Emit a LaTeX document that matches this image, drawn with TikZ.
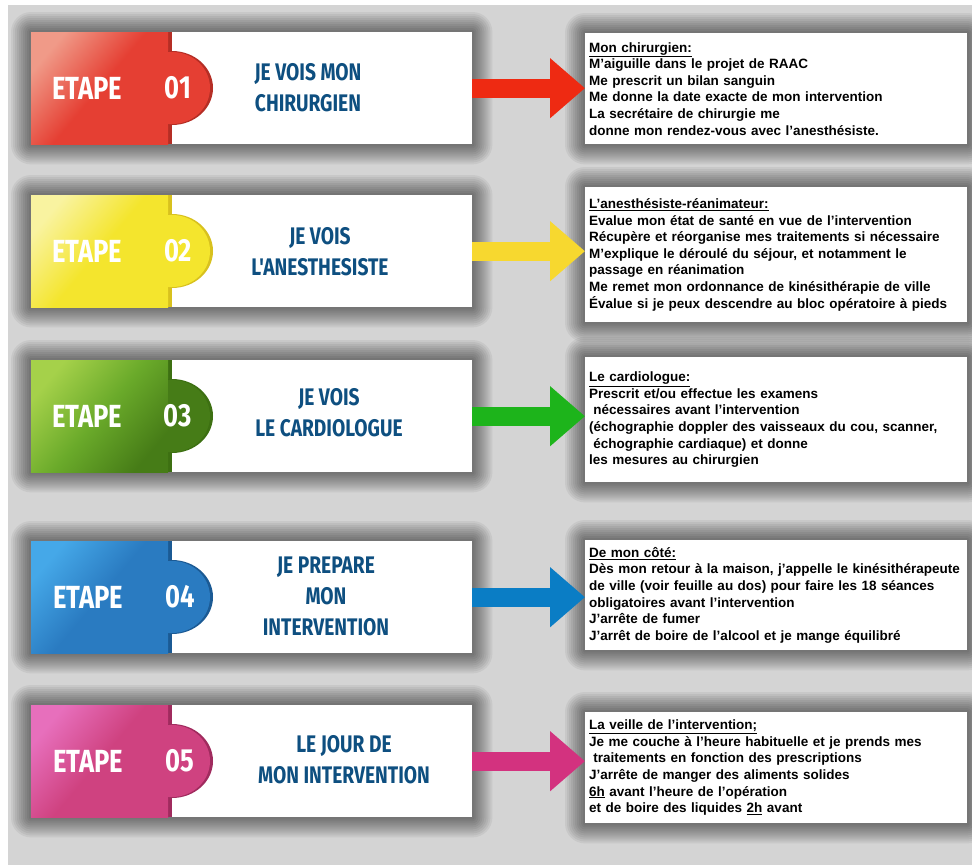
\documentclass[tikz,border=0pt]{standalone}
\usepackage{fontspec}
\setmainfont{Liberation Sans}
\newfontfamily\stepfont[FakeStretch=0.8]{Fira Sans}
\usetikzlibrary{positioning,arrows.meta,backgrounds}

\definecolor{bggray}{HTML}{D4D4D4}
\definecolor{titleblue}{HTML}{0E4F80}
\definecolor{redlight}{HTML}{F09A88}
\definecolor{redbase}{HTML}{E53F33}
\definecolor{reddark}{HTML}{B52E25}
\definecolor{redarrow}{HTML}{EE2A12}
\definecolor{yellowlight}{HTML}{F9F3A0}
\definecolor{yellowbase}{HTML}{F4E52D}
\definecolor{yellowdark}{HTML}{D8C11E}
\definecolor{yellowarrow}{HTML}{F7D82F}
\definecolor{greenlight}{HTML}{A5D14A}
\definecolor{greenbase}{HTML}{6AAA2A}
\definecolor{greendark}{HTML}{3D7012}
\definecolor{greenarrow}{HTML}{1DB41B}
\definecolor{bluelight}{HTML}{45A8E8}
\definecolor{bluebase}{HTML}{2A7BC1}
\definecolor{bluedark}{HTML}{1B5A94}
\definecolor{bluearrow}{HTML}{0A7DC5}
\definecolor{pinklight}{HTML}{E76FBC}
\definecolor{pinkbase}{HTML}{CF4280}
\definecolor{pinkdark}{HTML}{A02B5E}
\definecolor{pinkarrow}{HTML}{D3327F}

\tikzset{
	card/.style={fill=white, anchor=north west, minimum width=441pt, minimum height=112pt, inner sep=0pt},
	steplabel/.style={text=white, font=\stepfont\bfseries\fontsize{32}{32}\selectfont, inner sep=0pt},
	titletext/.style={text=titleblue, font=\stepfont\bfseries\fontsize{24}{31}\selectfont, align=center, inner sep=0pt},
	infobox/.style={fill=white, anchor=north west, text width=374pt, inner xsep=4pt, inner ysep=4pt, align=left, font=\bfseries\fontsize{13.5}{16.6}\selectfont},
	shadowring/.style={fill=black, opacity=0.055},
	fatarrow/.style={line width=19pt, -{Triangle[length=35pt,width=58pt]}},
	pics/tile/.style n args={4}{code={
		\fill[#4] (137,0) rectangle (141,112);
		\fill[left color=#1, right color=#3, middle color=#2, shading angle=50] (0,0) rectangle (137,112);
		\fill[#4] (137,19) -- (141,19) arc[start angle=-90, end angle=90, x radius=41, y radius=37] -- (137,93) -- cycle;
		\fill[#3] (137,20) -- (141,20) arc[start angle=-90, end angle=90, x radius=38, y radius=36] -- (137,92) -- cycle;
	}}
}

\begin{document}
\begin{tikzpicture}[x=1pt, y=-1pt]
	\useasboundingbox (0,0) rectangle (972,865);
	
	% etape 01
	\node[card] (card1) at (31,32) {};
	\pic at (31,32) {tile={redlight}{redbase}{redbase}{reddark}};
	\node[steplabel] (etape1) at (87,88) {ETAPE};
	\node[steplabel] (num1) at (178,88) {01};
	\node[titletext] (title1) at (308,88) {JE VOIS MON\\CHIRURGIEN};
	\node[infobox, minimum height=111pt] (info1) at (585,33) {\underline{Mon chirurgien:}\\
		M’aiguille dans le projet de RAAC\\
		Me prescrit un bilan sanguin\\
		Me donne la date exacte de mon intervention\\
		La secrétaire de chirurgie me\\
		donne mon rendez-vous avec l’anesthésiste.};
	\draw[fatarrow, redarrow] (card1.east) -- (card1.east -| info1.west);
	
	% etape 02
	\node[card] (card2) at (31,195) {};
	\pic at (31,195) {tile={yellowlight}{yellowbase}{yellowbase}{yellowdark}};
	\node[steplabel] (etape2) at (87,251) {ETAPE};
	\node[steplabel] (num2) at (178,251) {02};
	\node[titletext] (title2) at (320,252) {JE VOIS\\L'ANESTHESISTE};
	\node[infobox, minimum height=135pt] (info2) at (585,187) {\underline{L’anesthésiste-réanimateur:}\\
		Evalue mon état de santé en vue de l’intervention\\
		Récupère et réorganise mes traitements si nécessaire\\
		M’explique le déroulé du séjour, et notamment le\\
		passage en réanimation\\
		Me remet mon ordonnance de kinésithérapie de ville\\
		Évalue si je peux descendre au bloc opératoire à pieds};
	\draw[fatarrow, yellowarrow] (card2.east) -- (card2.east -| info2.west);
	
	% etape 03
	\node[card] (card3) at (31,360) {};
	\pic at (31,360) {tile={greenlight}{greenbase}{greendark!80!greenbase}{greendark}};
	\node[steplabel] (etape3) at (87,416) {ETAPE};
	\node[steplabel] (num3) at (178,416) {03};
	\node[titletext] (title3) at (329,413) {JE VOIS\\LE CARDIOLOGUE};
	\node[infobox, minimum height=125pt] (info3) at (585,357) {\underline{Le cardiologue:}\\
		Prescrit et/ou effectue les examens\\
		\hspace*{.3em}nécessaires avant l’intervention\\
		(échographie doppler des vaisseaux du cou, scanner,\\
		\hspace*{.3em}échographie cardiaque) et donne\\
		les mesures au chirurgien};
	\draw[fatarrow, greenarrow] (card3.east) -- (card3.east -| info3.west);
	
	% etape 04
	\node[card] (card4) at (31,541) {};
	\pic at (31,541) {tile={bluelight}{bluebase}{bluebase}{bluedark}};
	\node[steplabel] (etape4) at (88,597) {ETAPE};
	\node[steplabel] (num4) at (180,597) {04};
	\node[titletext] (title4) at (326,596) {JE PREPARE\\MON\\INTERVENTION};
	\node[infobox, minimum height=110pt] (info4) at (585,540) {\underline{De mon côté:}\\
		Dès mon retour à la maison, j’appelle le kinésithérapeute\\
		de ville (voir feuille au dos) pour faire les 18 séances\\
		obligatoires avant l’intervention\\
		J’arrête de fumer\\
		J’arrêt de boire de l’alcool et je mange équilibré};
	\draw[fatarrow, bluearrow] (card4.east) -- (card4.east -| info4.west);
	
	% etape 05
	\node[card] (card5) at (31,705) {};
	\pic at (31,705) {tile={pinklight}{pinkbase}{pinkbase}{pinkdark}};
	\node[steplabel] (etape5) at (88,761) {ETAPE};
	\node[steplabel] (num5) at (180,761) {05};
	\node[titletext] (title5) at (344,760) {LE JOUR DE\\MON INTERVENTION};
	\node[infobox, minimum height=111pt] (info5) at (585,712) {\underline{La veille de l’intervention;}\\
		Je me couche à l’heure habituelle et je prends mes\\
		\hspace*{.3em}traitements en fonction des prescriptions\\
		J’arrête de manger des aliments solides\\
		\underline{6h} avant l’heure de l’opération\\
		et de boire des liquides \underline{2h} avant};
	\draw[fatarrow, pinkarrow] (card5.east) -- (card5.east -| info5.west);
	
	% gray sheet and soft shadows behind the cards
	\begin{scope}[on background layer]
		\fill[bggray] (8,5) rectangle (972,865);
		\foreach \panel in {card1,card2,card3,card4,card5,info1,info2,info3,info4,info5}
			\foreach \r in {2,4,...,20}
				\fill[shadowring, rounded corners=\r pt] ([shift={(-\r,-\r)}]\panel.north west) rectangle ([shift={(\r,\r)}]\panel.south east);
	\end{scope}
\end{tikzpicture}
\end{document}
